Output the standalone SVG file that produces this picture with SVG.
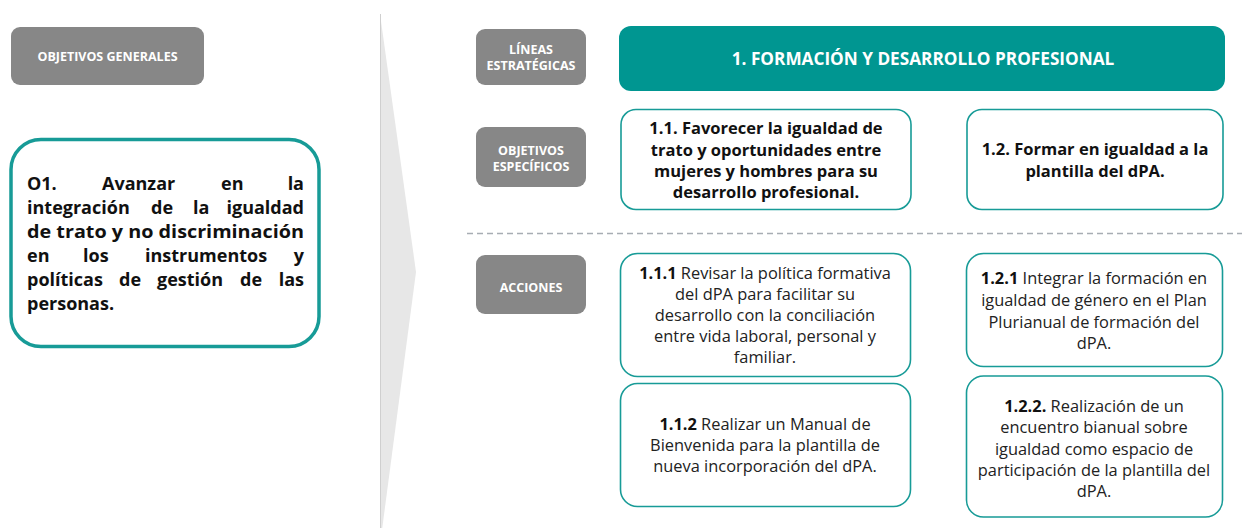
<svg xmlns="http://www.w3.org/2000/svg" width="1242" height="528" viewBox="0 0 1242 528">
<style>
.lbl{fill:#878787}
.lt{font-family:"Open Sans","Liberation Sans",sans-serif;font-weight:bold;fill:#fff;font-size:12.5px;text-anchor:middle}
.box{fill:#fff;stroke:#179b97;stroke-width:1.6}
.bt{font-family:"Open Sans","Liberation Sans",sans-serif;font-weight:bold;font-size:16.5px;fill:#111;text-anchor:middle}
.at{font-family:"Open Sans","Liberation Sans",sans-serif;font-size:16.4px;fill:#222;text-anchor:middle}
.at tspan.b{font-weight:bold;fill:#111}
.o1{font-family:"Open Sans","Liberation Sans",sans-serif;font-weight:bold;font-size:18px;fill:#111}
</style>
<rect width="1242" height="528" fill="#fff"/>
<g id="chevron">
<polygon points="380,14 416,272 382,530 380,530" fill="#e7e7e7"/>
<line x1="380.5" y1="14" x2="380.5" y2="528" stroke="#cfcfcf" stroke-width="1"/>
</g>
<g id="obj-generales">
<rect class="lbl" x="11" y="27" width="193" height="58" rx="9"/>
<text class="lt" x="107.5" y="61" font-size="13">OBJETIVOS GENERALES</text>
</g>
<g id="o1">
<rect x="11" y="139.5" width="308" height="207" rx="30" fill="#fff" stroke="#179b97" stroke-width="3.5"/>
<text class="o1" y="190"><tspan x="27">O1.</tspan><tspan x="102">Avanzar</tspan><tspan x="221">en</tspan><tspan x="304" text-anchor="end">la</tspan></text>
<text class="o1" y="214"><tspan x="27">integración</tspan><tspan x="151">de</tspan><tspan x="193">la</tspan><tspan x="304" text-anchor="end">igualdad</tspan></text>
<text class="o1" x="27" y="238" textLength="277" lengthAdjust="spacingAndGlyphs">de trato y no discriminación</text>
<text class="o1" y="262"><tspan x="27">en</tspan><tspan x="83">los</tspan><tspan x="145">instrumentos</tspan><tspan x="304" text-anchor="end">y</tspan></text>
<text class="o1" y="286"><tspan x="27">políticas</tspan><tspan x="119">de</tspan><tspan x="157">gestión</tspan><tspan x="240">de</tspan><tspan x="304" text-anchor="end">las</tspan></text>
<text class="o1" x="27" y="310">personas.</text>
</g>
<g id="lineas">
<rect class="lbl" x="476" y="29" width="110" height="56" rx="9"/>
<text class="lt" x="531" y="54" font-size="12">LÍNEAS</text>
<text class="lt" x="531" y="70" font-size="12">ESTRATÉGICAS</text>
</g>
<g id="objesp">
<rect class="lbl" x="476" y="127" width="110" height="60" rx="9"/>
<text class="lt" x="531" y="155">OBJETIVOS</text>
<text class="lt" x="531" y="171">ESPECÍFICOS</text>
</g>
<g id="acciones">
<rect class="lbl" x="476" y="255" width="110" height="59" rx="9"/>
<text class="lt" x="531" y="292">ACCIONES</text>
</g>
<g id="connectors">
<line x1="467" y1="233.5" x2="1242" y2="233.5" stroke="#a7adb3" stroke-width="1.3" stroke-dasharray="6,4"/>
</g>
<g id="linea1">
<rect x="619" y="26" width="606" height="65" rx="12" fill="#009691"/>
<text x="923" y="65" font-family="'Open Sans','Liberation Sans',sans-serif" font-weight="bold" font-size="17.2" fill="#fff" text-anchor="middle">1. FORMACIÓN Y DESARROLLO PROFESIONAL</text>
</g>
<g id="oe11">
<rect class="box" x="621" y="109.5" width="290" height="100" rx="15"/>
<text class="bt" x="766" y="134">1.1. Favorecer la igualdad de</text>
<text class="bt" x="766" y="155.5">trato y oportunidades entre</text>
<text class="bt" x="766" y="177">mujeres y hombres para su</text>
<text class="bt" x="766" y="198">desarrollo profesional.</text>
</g>
<g id="oe12">
<rect class="box" x="967" y="109.5" width="256" height="100" rx="15"/>
<text class="bt" x="1095" y="155">1.2. Formar en igualdad a la</text>
<text class="bt" x="1095" y="177">plantilla del dPA.</text>
</g>
<g id="a111">
<rect class="box" x="620.5" y="253.5" width="290" height="123" rx="17"/>
<text class="at" x="765" y="279"><tspan class="b">1.1.1</tspan> Revisar la política formativa</text>
<text class="at" x="765" y="300">del dPA para facilitar su</text>
<text class="at" x="765" y="321">desarrollo con la conciliación</text>
<text class="at" x="765" y="342">entre vida laboral, personal y</text>
<text class="at" x="765" y="363">familiar.</text>
</g>
<g id="a112">
<rect class="box" x="620.5" y="383.5" width="290" height="123" rx="17"/>
<text class="at" x="765" y="430"><tspan class="b">1.1.2</tspan> Realizar un Manual de</text>
<text class="at" x="765" y="451">Bienvenida para la plantilla de</text>
<text class="at" x="765" y="472">nueva incorporación del dPA.</text>
</g>
<g id="a121">
<rect class="box" x="966.5" y="253.5" width="256" height="113" rx="17"/>
<text class="at" x="1094" y="284"><tspan class="b">1.2.1</tspan> Integrar la formación en</text>
<text class="at" x="1094" y="306">igualdad de género en el Plan</text>
<text class="at" x="1094" y="328">Plurianual de formación del</text>
<text class="at" x="1094" y="349">dPA.</text>
</g>
<g id="a122">
<rect class="box" x="966.5" y="376" width="256" height="141" rx="17"/>
<text class="at" x="1094" y="412"><tspan class="b">1.2.2.</tspan> Realización de un</text>
<text class="at" x="1094" y="433">encuentro bianual sobre</text>
<text class="at" x="1094" y="455">igualdad como espacio de</text>
<text class="at" x="1094" y="476">participación de la plantilla del</text>
<text class="at" x="1094" y="497">dPA.</text>
</g>
</svg>
